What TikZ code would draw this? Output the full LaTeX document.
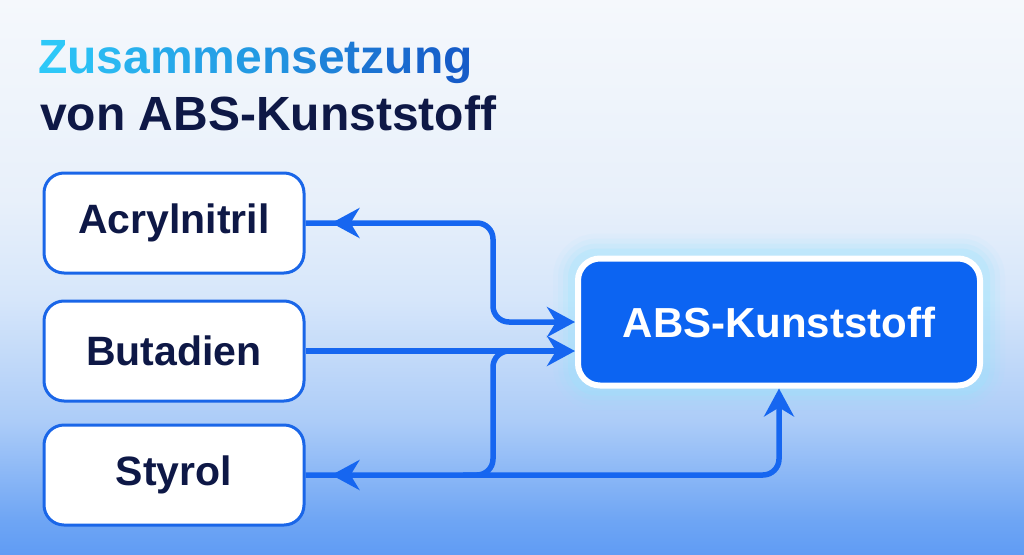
\documentclass[tikz,border=0pt]{standalone}
\usepackage{fontspec}
\setmainfont{Liberation Sans}
\usetikzlibrary{arrows.meta,backgrounds,decorations.markings,calc}
\definecolor{bgtop}{RGB}{245,248,252}
\definecolor{bghigh}{RGB}{232,240,250}
\definecolor{bgmid}{RGB}{214,230,250}
\definecolor{bglow}{RGB}{172,204,248}
\definecolor{bgdeep}{RGB}{110,165,244}
\definecolor{bgbot}{RGB}{96,156,244}
\definecolor{boxblue}{RGB}{26,102,232}
\definecolor{lineblue}{RGB}{22,102,240}
\definecolor{absblue}{RGB}{12,100,242}
\definecolor{navy}{RGB}{14,24,70}
\definecolor{tcyan}{RGB}{45,200,248}
\definecolor{tblue}{RGB}{22,92,200}
\definecolor{glowcyan}{RGB}{150,230,255}
\pgfdeclareverticalshading{bgfade}{100bp}{color(0bp)=(bgbot); color(25bp)=(bgbot); color(28bp)=(bgdeep); color(37bp)=(bglow); color(48bp)=(bgmid); color(57bp)=(bghigh); color(75bp)=(bgtop); color(100bp)=(bgtop)}
\begin{document}
\begin{tikzpicture}[x=1pt,y=-1pt,
  part/.style={draw=boxblue,line width=3pt,fill=white,rounded corners=20pt,minimum width=260pt,minimum height=100pt,text=navy,font=\fontsize{41}{49}\selectfont\bfseries},
  product/.style={draw=white,line width=6pt,fill=absblue,rounded corners=22pt,minimum width=402pt,minimum height=127pt,text=white,font=\fontsize{42}{50}\selectfont\bfseries},
  flow/.style={draw=lineblue,line width=5.5pt,rounded corners=16pt},
  tip/.style={-{Stealth[length=28pt,width=30pt,inset=9pt]}},
  backtip/.style={postaction={decorate},decoration={markings,mark=at position 26pt with {\arrowreversed{Stealth[length=28pt,width=30pt,inset=9pt]}}}}]
	\useasboundingbox (0,0) rectangle (1024,554);
	% title
	\node[anchor=base west,inner sep=0,font=\fontsize{48}{56}\selectfont\bfseries] (title) at (38,73)
		{\foreach \l [count=\i from 0] in {Z,u,s,a,m,m,e,n,s,e,t,z,u,n,g}{\pgfmathtruncatemacro{\p}{100-\i*100/14}\textcolor{tcyan!\p!tblue}{\l}}};
	\node[anchor=base west,inner sep=0,font=\fontsize{48}{56}\selectfont\bfseries,text=navy] (subtitle) at (40,130) {von ABS-Kunststoff};
	% boxes
	\node[part] (acr) at (174,223) {Acrylnitril};
	\node[part] (but) at (174,351) {Butadien};
	\node[part] (sty) at (174,475) {Styrol};
	\node[product] (abs) at (779,322) {ABS-Kunststoff};
	\coordinate (jx) at (493,0);
	% connectors
	\draw[flow,tip,backtip] (acr.east) -- (acr.east -| jx) -- (jx |- abs.west) -- (abs.west);
	\draw[flow,tip] (but.east) -- (but.east -| abs.west);
	\draw[flow,tip,backtip] (sty.east) -- (sty.east -| abs.south) -- (abs.south);
	\draw[flow] ($(jx |- sty.east)+(-30,0)$) -- (jx |- sty.east) -- (jx |- but.east) -- ($(jx |- but.east)+(30,0)$);
	\begin{scope}[on background layer]
		\shade[shading=bgfade] (0,0) rectangle (1024,554);
		\foreach \w/\o in {44/0.06,34/0.09,24/0.13,14/0.22}
		\draw[glowcyan,line width=\w pt,opacity=\o,rounded corners=22pt] (abs.south west) rectangle (abs.north east);
	\end{scope}
\end{tikzpicture}
\end{document}
